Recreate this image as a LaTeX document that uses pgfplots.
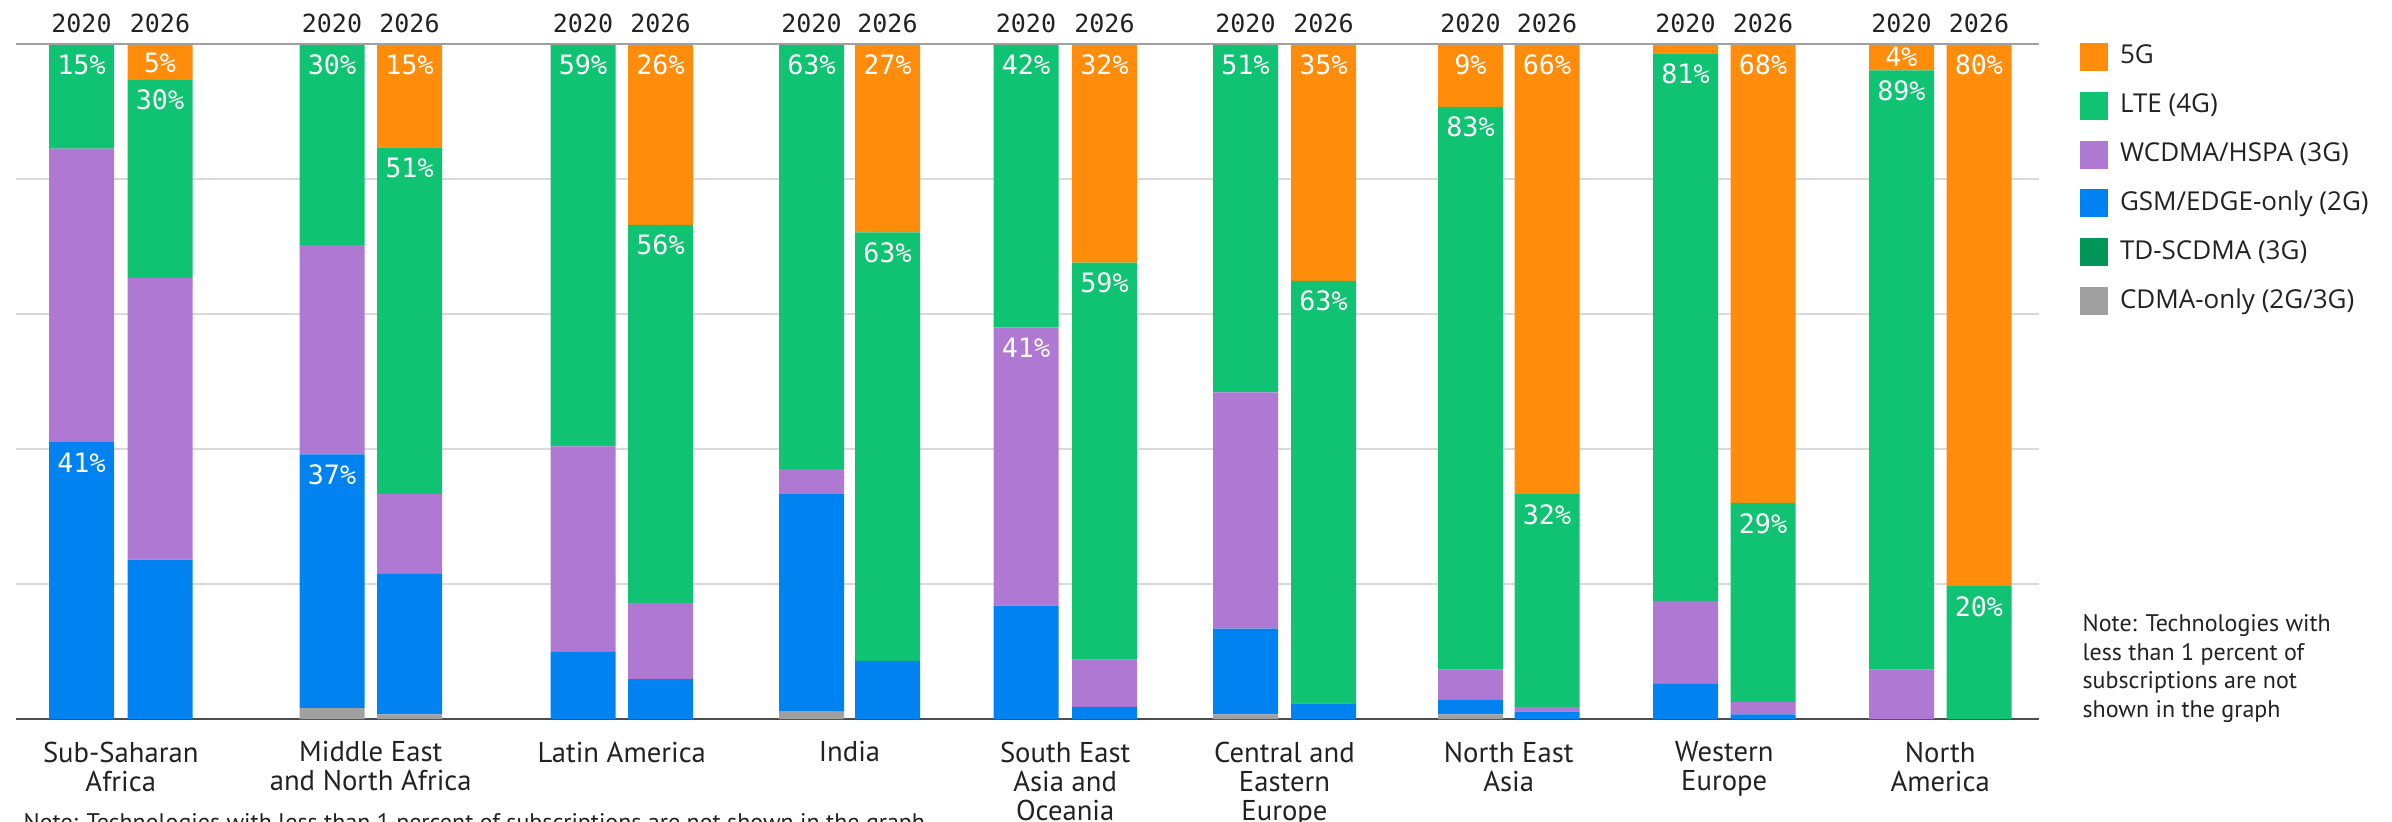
\documentclass[border=0pt]{standalone}
\usepackage{pgfplots}
\pgfplotsset{compat=1.18}
\usepackage{pgfplotstable}
\usepackage{fontspec}
\setmainfont{PT Sans}
\newfontfamily\monofont{DejaVu Sans Mono}
\newfontfamily\legfont{Open Sans}

\definecolor{c5g}{HTML}{FF8C0A}
\definecolor{clte}{HTML}{0FC373}
\definecolor{cwcdma}{HTML}{AF78D2}
\definecolor{cgsm}{HTML}{0082F0}
\definecolor{ctd}{HTML}{00965A}
\definecolor{ccdma}{HTML}{A0A0A0}
\definecolor{gridgray}{HTML}{D9D9D9}
\definecolor{txt}{HTML}{222222}

% share of subscriptions (%), one row per bar, x = bar centre in px
\pgfplotstableread{
x      cdma td gsm  wcdma lte  fiveg
81.5   0    0  41.0 43.5  15.5 0
160    0    0  23.6 41.7  29.4 5.3
332    1.6  0  37.6 31.0  29.8 0
409.5  0.7  0  20.8 11.8  51.4 15.3
583    0    0  10.0 30.4  59.6 0
660.5  0    0  5.9  11.3  56.0 26.8
811.5  1.1  0  32.2 3.7   63.0 0
887.5  0    0  8.6  0     63.5 27.9
1026   0    0  16.8 41.2  42.0 0
1104.5 0    0  1.8  7.0   58.8 32.4
1245.5 0.7  0  12.7 35.0  51.6 0
1323.5 0    0  2.3  0     62.6 35.1
1470.5 0.7  0  2.2  4.4   83.4 9.3
1547   0    0  1.1  0.7   31.5 66.7
1685.5 0    0  5.2  12.3  81.1 1.4
1763   0    0  0.7  1.8   29.5 68.0
1901.5 0    0  0    7.3   88.8 3.9
1979   0    0  0    0     19.7 80.3
}\shares

\begin{document}
\begin{tikzpicture}[
  yr/.style={font=\monofont\fontsize{7.5bp}{9bp}\selectfont, text=txt, anchor=base, inner sep=0pt},
  pct/.style={font=\monofont\fontsize{8bp}{9bp}\selectfont, text=white, anchor=base, inner sep=0pt},
  cat/.style={font=\fontsize{8.6bp}{8.7bp}\selectfont, text=txt, anchor=north, align=center, inner sep=0pt}]
\useasboundingbox (0bp,0bp) rectangle (717.6bp,246.6bp);
\begin{axis}[
  at={(4.8bp,30.9bp)}, anchor=south west,
  scale only axis, width=606.9bp, height=202.5bp,
  xmin=16, xmax=2039, ymin=0, ymax=100,
  ybar stacked, bar width=65,
  axis line style={draw=none},
  xtick=\empty, ytick={20,40,60,80}, yticklabels={},
  major tick length=0pt,
  ymajorgrids, grid style={line width=0.6bp, color=gridgray},
  clip=false,
  reverse legend,
  legend cell align=left,
  legend image code/.code={\fill[#1] (0bp,-4.2bp) rectangle (8.4bp,4.2bp);},
  legend style={at={(1.02027,1.00148)}, anchor=north west, draw=none, fill=none,
    inner sep=0pt, outer sep=0pt, row sep=6.24bp, column sep=3.6bp,
    font=\legfont\fontsize{7.8bp}{9bp}\selectfont, text=txt,
    cells={anchor=west}, nodes={inner sep=0pt}},
]
\draw[line width=0.5bp, color=ccdma] (axis cs:16,100) -- (axis cs:2039,100);
\addplot[fill=ccdma, draw=none] table[x=x, y=cdma] {\shares};
\addlegendentry{CDMA-only (2G/3G)}
\addplot[fill=ctd, draw=none] table[x=x, y=td] {\shares};
\addlegendentry{TD-SCDMA (3G)}
\addplot[fill=cgsm, draw=none] table[x=x, y=gsm] {\shares};
\addlegendentry{GSM/EDGE-only (2G)}
\addplot[fill=cwcdma, draw=none] table[x=x, y=wcdma] {\shares};
\addlegendentry{WCDMA/HSPA (3G)}
\addplot[fill=clte, draw=none] table[x=x, y=lte] {\shares};
\addlegendentry{LTE (4G)}
\addplot[fill=c5g, draw=none] table[x=x, y=fiveg] {\shares};
\addlegendentry{5G}
\draw[line width=0.6bp, color=black!70] (axis cs:16,0) -- (axis cs:2039,0);
\end{axis}

\begin{scope}[x=0.3bp, y=0.3bp]
% value labels (px coordinates, baseline)
\node[pct] at (81.5,748) {15\%};
\node[pct] at (81.5,349.8) {41\%};
\node[pct] at (160,750) {5\%};
\node[pct] at (160,712.3) {30\%};
\node[pct] at (332,748) {30\%};
\node[pct] at (332,337.6) {37\%};
\node[pct] at (409.5,748) {15\%};
\node[pct] at (409.5,644.8) {51\%};
\node[pct] at (583,748) {59\%};
\node[pct] at (660.5,748) {26\%};
\node[pct] at (660.5,567.1) {56\%};
\node[pct] at (811.5,748) {63\%};
\node[pct] at (887.5,748) {27\%};
\node[pct] at (887.5,559.7) {63\%};
\node[pct] at (1026,748) {42\%};
\node[pct] at (1026,464.5) {41\%};
\node[pct] at (1104.5,748) {32\%};
\node[pct] at (1104.5,529.3) {59\%};
\node[pct] at (1245.5,748) {51\%};
\node[pct] at (1323.5,748) {35\%};
\node[pct] at (1323.5,511.1) {63\%};
\node[pct] at (1470.5,748) {9\%};
\node[pct] at (1470.5,685.3) {83\%};
\node[pct] at (1547,748) {66\%};
\node[pct] at (1547,297.8) {32\%};
\node[pct] at (1685.5,738.6) {81\%};
\node[pct] at (1763,748) {68\%};
\node[pct] at (1763,289) {29\%};
\node[pct] at (1901.5,756) {4\%};
\node[pct] at (1901.5,721.7) {89\%};
\node[pct] at (1979,748) {80\%};
\node[pct] at (1979,206) {20\%};

% years above the bars
\foreach \x in {81.5,332,583,811.5,1026,1245.5,1470.5,1685.5,1901.5}
  \node[yr] at (\x,790) {2020};
\foreach \x in {160,409.5,660.5,887.5,1104.5,1323.5,1547,1763,1979}
  \node[yr] at (\x,790) {2026};

% regions
\node[cat] at (120.75,81) {Sub-Saharan\\Africa};
\node[cat] at (370.75,81) {Middle East\\and North Africa};
\node[cat] at (621.75,81) {Latin America};
\node[cat] at (849.5,81) {India};
\node[cat] at (1065.25,81) {South East\\Asia and\\Oceania};
\node[cat] at (1284.5,81) {Central and\\Eastern\\Europe};
\node[cat] at (1508.75,81) {North East\\Asia};
\node[cat] at (1724.25,81) {Western\\Europe};
\node[cat] at (1940.25,81) {North\\America};

% notes
\node[anchor=north west, align=left, inner sep=0pt, text=txt,
  font=\fontsize{7.2bp}{8.55bp}\selectfont] at (2082,208)
  {Note: Technologies with\\less than 1 percent of\\subscriptions are not\\shown in the graph};
\node[anchor=north west, inner sep=0pt, text=txt,
  font=\fontsize{7.2bp}{8.55bp}\selectfont] at (23,9)
  {Note: Technologies with less than 1 percent of subscriptions are not shown in the graph};
\end{scope}
\end{tikzpicture}
\end{document}
